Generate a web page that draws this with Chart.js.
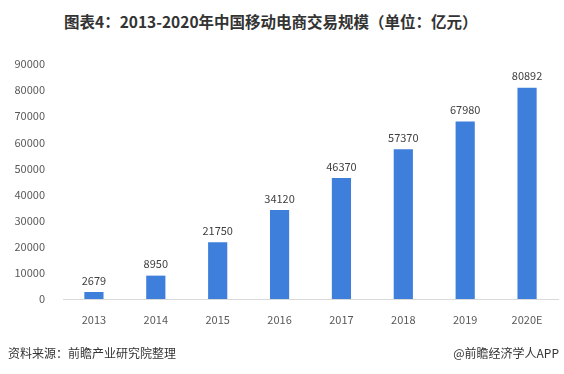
<!DOCTYPE html>
<html>
<head>
<meta charset="utf-8">
<script src="https://cdn.jsdelivr.net/npm/chart.js@4"></script>
<style>
  body { margin: 0; background: #fff; width: 564px; height: 374px; position: relative; overflow: hidden; }
  #title { position: absolute; top: 10px; left: 64px; font: bold 15.5px "Noto Sans CJK SC"; color: #333; white-space: nowrap; }
  .foot { position: absolute; top: 344px; font: 12px "Noto Sans CJK SC"; color: #333; white-space: nowrap; }
  #src { left: 8px; }
  #app { right: 5px; }
  #wrap { position: absolute; left: 0; top: 0; width: 564px; height: 374px; }
</style>
</head>
<body>
<div id="title">图表4：2013-2020年中国移动电商交易规模（单位：亿元）</div>
<div id="wrap"><canvas id="c"></canvas></div>
<div class="foot" id="src">资料来源：前瞻产业研究院整理</div>
<div class="foot" id="app">@前瞻经济学人APP</div>
<script>
// ---- data ----
const years = ["2013", "2014", "2015", "2016", "2017", "2018", "2019", "2020E"];
const volume = [2679, 8950, 21750, 34120, 46370, 57370, 67980, 80892];

// value labels above bars
const barLabels = {
  id: "barLabels",
  afterDatasetsDraw(chart) {
    const ctx = chart.ctx;
    const meta = chart.getDatasetMeta(0);
    ctx.save();
    ctx.font = '11px "Noto Sans CJK SC"';
    ctx.fillStyle = "#404040";
    ctx.textAlign = "center";
    ctx.textBaseline = "bottom";
    meta.data.forEach((bar, i) => {
      ctx.fillText(String(volume[i]), bar.x, bar.y - 6);
    });
    ctx.restore();
  }
};

new Chart(document.getElementById("c"), {
  type: "bar",
  data: {
    labels: years,
    datasets: [{
      data: volume,
      backgroundColor: "#3e7fdc",
      barPercentage: 0.62,
      categoryPercentage: 0.5
    }]
  },
  options: {
    responsive: true,
    maintainAspectRatio: false,
    animation: false,
    layout: { padding: { top: 64, right: 6, bottom: 35, left: 0 } },
    plugins: { legend: { display: false }, tooltip: { enabled: false } },
    scales: {
      x: {
        grid: { display: false },
        border: { display: true, color: "#d9d9d9" },
        ticks: { color: "#595959", font: { family: "Noto Sans CJK SC", size: 11 }, padding: 6 },
        afterFit(s) { s.height = 40; }
      },
      y: {
        min: 0,
        max: 90000,
        grid: { display: false },
        border: { display: false },
        ticks: {
          stepSize: 10000,
          color: "#595959",
          font: { family: "Noto Sans CJK SC", size: 11 },
          padding: 10,
          callback: v => String(v)
        },
        afterFit(s) { s.width = 63; }
      }
    }
  },
  plugins: [barLabels]
});
</script>
</body>
</html>
